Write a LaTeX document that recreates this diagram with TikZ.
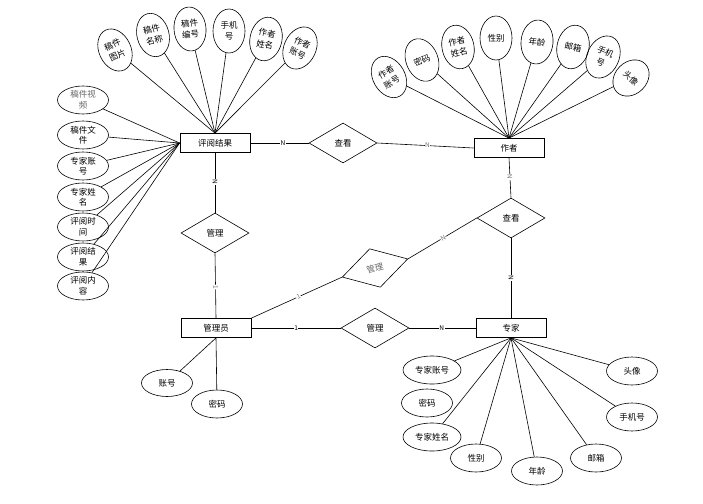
\documentclass[tikz,border=0pt]{standalone}
\usepackage{fontspec}
\newfontfamily\cjk{Noto Sans CJK SC}
\usetikzlibrary{shapes.geometric}
\begin{document}
\begin{tikzpicture}[x=1pt,y=-1pt,
  font=\cjk\fontsize{8.5}{10}\selectfont,
  entity/.style={draw, rectangle, minimum width=70pt, minimum height=19pt, inner sep=0pt, line width=0.8pt},
  rel/.style={draw, diamond, minimum width=68pt, minimum height=40pt, inner sep=0pt, shape aspect=1.7, line width=0.6pt},
  attr/.style={draw, ellipse, inner sep=0pt, align=center, line width=0.6pt},
  vattr/.style={attr, minimum width=32pt, minimum height=44pt, font=\cjk\fontsize{8.5}{11.5}\selectfont},
  hattr/.style={attr, minimum width=51pt, minimum height=28pt, font=\cjk\fontsize{8.5}{10.5}\selectfont},
  conn/.style={line width=0.6pt},
  card/.style={font=\cjk\fontsize{6.5}{6.5}\selectfont, fill=white, inner sep=0.5pt}]
\useasboundingbox (0,0) rectangle (703,503);

% entities
\node[entity] (pj) at (215,143) {评阅结果};
\node[entity] (zz) at (509,148) {作者};
\node[entity] (gly) at (216,328) {管理员};
\node[entity] (zj) at (511,328) {专家};

% relationships
\node[rel] (ck1) at (343,143) {查看};
\node[rel] (gl1) at (215,233) {管理};
\node[rel] (ck2) at (511,218) {查看};
\node[rel, rotate=15.5, text=black!60] (gl2) at (375,268) {管理};
\node[rel] (gl3) at (375,328) {管理};

% relationship lines with cardinalities
\draw[conn] (pj.east) -- node[card, pos=0.56] {N} (ck1.west);
\draw[conn] (ck1.east) -- node[card, pos=0.52, text=black!55] {N} (zz.west);
\draw[conn] (pj.south) -- node[card, pos=0.49, sloped] {N} (gl1.north);
\draw[conn] (gl1.south) -- node[card, pos=0.52, sloped, text=black!55] {1} (gly.north);
\draw[conn] (zz.south) -- node[card, pos=0.48, sloped, text=black!55] {N} (ck2.north);
\draw[conn] (ck2.south) -- node[card, pos=0.5, sloped] {N} (zj.north);
\draw[conn] (gly.north east) -- node[card, pos=0.52, sloped, text=black!55] {1} (gl2.west);
\draw[conn] (gl2.east) -- node[card, pos=0.51, sloped, text=black!55] {N} (ck2.west);
\draw[conn] (gly.east) -- node[card, pos=0.5] {1} (gl3.west);
\draw[conn] (gl3.east) -- node[card, pos=0.49] {N} (zj.west);

% attributes of 评阅结果 (upper fan)
\node[vattr, rotate=25] (pa1) at (115,50) {稿件\\图片};
\node[vattr, rotate=15] (pa2) at (153,35) {稿件\\名称};
\node[vattr, rotate=5]  (pa3) at (190,29) {稿件\\编号};
\node[vattr, rotate=0]  (pa4) at (229,31) {手机\\号};
\node[vattr, rotate=-12] (pa5) at (266,39) {作者\\姓名};
\node[vattr, rotate=-25] (pa6) at (300,48) {作者\\账号};
\foreach \a in {pa1,pa2,pa3,pa4,pa5,pa6}
  \draw[conn] (pj.north) -- (\a);

% attributes of 评阅结果 (left column)
\node[hattr, text=black!60] (pb1) at (83,100) {稿件视\\频};
\node[hattr] (pb2) at (83,135) {稿件文\\件};
\node[hattr] (pb3) at (83,166) {专家账\\号};
\node[hattr] (pb4) at (83,197) {专家姓\\名};
\node[hattr] (pb5) at (83,227) {评阅时\\间};
\node[hattr] (pb6) at (83,257) {评阅结\\果};
\node[hattr] (pb7) at (83,286) {评阅内\\容};
\foreach \a in {pb1,pb2,pb3,pb4,pb5,pb6,pb7}
  \draw[conn] (pj.west) -- (\a);

% attributes of 作者
\node[vattr, rotate=30]  (za1) at (389,77) {作者\\账号};
\node[vattr, rotate=22]  (za2) at (422,60) {密码};
\node[vattr, rotate=12]  (za3) at (458,47) {作者\\姓名};
\node[vattr, rotate=0]   (za4) at (496,38) {性别};
\node[vattr, rotate=-5]  (za5) at (537,42) {年龄};
\node[vattr, rotate=-12] (za6) at (573,47) {邮箱};
\node[vattr, rotate=-25] (za7) at (603,57) {手机\\号};
\node[vattr, rotate=-45, minimum height=40pt] (za8) at (631,78) {头像};
\foreach \a in {za1,za2,za3,za4,za5,za6,za7,za8}
  \draw[conn] (zz.north) -- (\a);

% attributes of 管理员
\node[hattr, minimum height=27pt] (ga1) at (167,383) {账号};
\node[hattr] (ga2) at (217,404) {密码};
\draw[conn] (gly.south) -- (ga1);
\draw[conn] (gly.south) -- (ga2);

% attributes of 专家
\node[hattr, minimum width=58pt] (ja1) at (432,370) {专家账号};
\node[hattr] (ja2) at (427,403) {密码};
\node[hattr, minimum width=58pt] (ja3) at (432,437) {专家姓名};
\node[hattr] (ja4) at (476,458) {性别};
\node[hattr] (ja5) at (537,471) {年龄};
\node[hattr] (ja6) at (596,458) {邮箱};
\node[hattr] (ja7) at (632,417) {手机号};
\node[hattr] (ja8) at (632,371) {头像};
\foreach \a in {ja1,ja3,ja4,ja5,ja6,ja7,ja8}
  \draw[conn] (zj.south) -- (\a);
\end{tikzpicture}
\end{document}
